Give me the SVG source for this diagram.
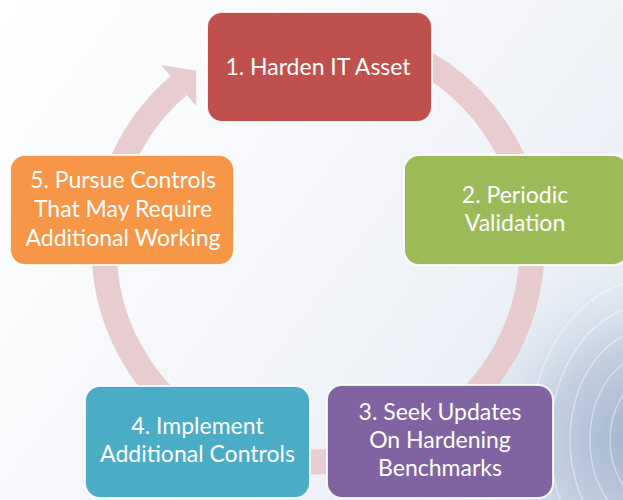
<svg xmlns="http://www.w3.org/2000/svg" width="623" height="500" viewBox="0 0 623 500">
  <defs>
    <style>
      .box { stroke: #ffffff; stroke-width: 2; stroke-opacity: 0.85; }
      .lbl { font-family: Lato, "Open Sans", "Liberation Sans", sans-serif; font-size: 23px; fill: #ffffff; text-anchor: middle; }
      .fp { fill: none; stroke: #ffffff; stroke-opacity: 0.4; stroke-width: 1.5; }
    </style>
    <linearGradient id="bg" x1="0" y1="0" x2="1" y2="0.6">
      <stop offset="0" stop-color="#ffffff"/>
      <stop offset="0.45" stop-color="#f7f8fb"/>
      <stop offset="1" stop-color="#e9eef5"/>
    </linearGradient>
    <radialGradient id="fpr" cx="640" cy="440" r="200" gradientUnits="userSpaceOnUse">
      <stop offset="0" stop-color="#9fb3cc"/>
      <stop offset="0.45" stop-color="#c3d0e0"/>
      <stop offset="1" stop-color="#e9eef5" stop-opacity="0"/>
    </radialGradient>
  </defs>

  <rect width="623" height="500" fill="url(#bg)"/>
  <rect width="623" height="500" fill="url(#fpr)"/>
  <g id="fingerprint">
    <ellipse class="fp" cx="650" cy="440" rx="40" ry="60"/>
    <ellipse class="fp" cx="650" cy="440" rx="60" ry="85"/>
    <ellipse class="fp" cx="650" cy="440" rx="80" ry="110"/>
    <ellipse class="fp" cx="650" cy="440" rx="100" ry="135"/>
    <ellipse class="fp" cx="650" cy="440" rx="120" ry="160"/>
  </g>

  <g id="connectors">
    <path d="M 318 34 A 214 214 0 1 1 178.7 85.5" fill="none" stroke="#e6c8cb" stroke-width="25" stroke-opacity="0.9"/>
    <polygon points="161,65 196.2,70.5 196.3,106" fill="#e6c8cb" fill-opacity="0.9"/>
  </g>

  <g id="node1">
    <rect class="box" x="207" y="12" width="225" height="110" rx="15" fill="#c0504d"/>
    <text class="lbl" x="318" y="75">1. Harden IT Asset</text>
  </g>
  <g id="node2">
    <rect class="box" x="404" y="155" width="224" height="110" rx="15" fill="#9bbb59"/>
    <text class="lbl" x="515" y="203">2. Periodic</text>
    <text class="lbl" x="515" y="231">Validation</text>
  </g>
  <g id="node3">
    <rect class="box" x="327" y="385" width="226" height="113" rx="15" fill="#8064a2"/>
    <text class="lbl" x="440" y="420">3. Seek Updates</text>
    <text class="lbl" x="440" y="448">On Hardening</text>
    <text class="lbl" x="440" y="476">Benchmarks</text>
  </g>
  <g id="node4">
    <rect class="box" x="85" y="386" width="225" height="112" rx="15" fill="#4bacc6"/>
    <text class="lbl" x="197.5" y="434">4. Implement</text>
    <text class="lbl" x="197.5" y="462">Additional Controls</text>
  </g>
  <g id="node5">
    <rect class="box" x="10" y="155" width="224" height="110" rx="15" fill="#f79646"/>
    <text class="lbl" x="123" y="188">5. Pursue Controls</text>
    <text class="lbl" x="123" y="217">That May Require</text>
    <text class="lbl" x="123" y="246">Additional Working</text>
  </g>
</svg>
